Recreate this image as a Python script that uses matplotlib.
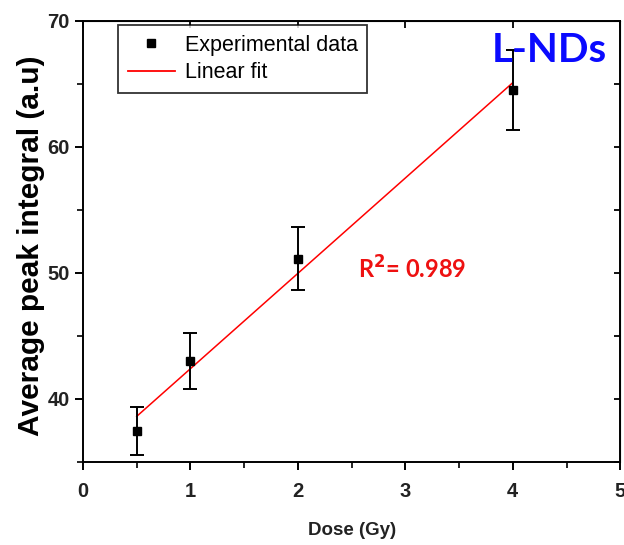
import numpy as np
import matplotlib
matplotlib.use("Agg")
import matplotlib.pyplot as plt
from matplotlib.ticker import MultipleLocator
from matplotlib.lines import Line2D

dose = [0.5, 1, 2, 4]
peak = [37.4, 43.0, 51.1, 64.5]
peak_err = [1.9, 2.2, 2.5, 3.2]

plt.rcParams["font.family"] = ["Liberation Sans", "DejaVu Sans"]

fig = plt.figure(figsize=(6.24, 5.45), dpi=100)
ax = fig.add_axes([0.133, 0.153, 0.861, 0.809])

# linear fit through the points
slope, intercept = np.polyfit(dose, peak, 1)
xfit = np.linspace(min(dose), max(dose), 50)
ax.plot(xfit, slope * xfit + intercept, color="red", lw=1.1, zorder=2)

ax.errorbar(dose, peak, yerr=peak_err, fmt="s", color="black", ms=6,
            ecolor="black", elinewidth=1.4, capsize=5, capthick=1.4, zorder=3)

ax.set_xlim(0, 5)
ax.set_ylim(35, 70)
ax.xaxis.set_major_locator(MultipleLocator(1))
ax.xaxis.set_minor_locator(MultipleLocator(0.5))
ax.yaxis.set_major_locator(MultipleLocator(10))
ax.yaxis.set_minor_locator(MultipleLocator(5))
ax.tick_params(which="major", direction="out", length=6, width=1.4,
               labelsize=14.5, labelcolor="#222222")
ax.tick_params(axis="x", which="major", pad=9)
ax.tick_params(which="minor", direction="out", length=4, width=1.2)
for lab in ax.get_xticklabels() + ax.get_yticklabels():
    lab.set_fontweight("bold")
for sp in ax.spines.values():
    sp.set_linewidth(1.4)

# inward ticks on top and right
top = ax.secondary_xaxis("top")
top.xaxis.set_major_locator(MultipleLocator(1))
top.tick_params(direction="in", length=5, width=1.3, labeltop=False)
right = ax.secondary_yaxis("right")
right.yaxis.set_major_locator(MultipleLocator(10))
right.yaxis.set_minor_locator(MultipleLocator(5))
right.tick_params(which="both", direction="in", length=4, width=1.3, labelright=False)

ax.set_xlabel("Dose (Gy)", fontsize=13.5, fontweight="bold", color="#222222", labelpad=15)
ax.set_ylabel("Average peak integral (a.u)", fontsize=21.5, fontweight="bold")
ax.yaxis.set_label_coords(-0.071, 0.49)

handles = [
    Line2D([], [], marker="s", ls="none", color="black", ms=6),
    Line2D([], [], color="red", lw=1.3),
]
leg = ax.legend(handles, ["Experimental data", "Linear fit"], loc="upper left",
                bbox_to_anchor=(0.065, 0.99), borderaxespad=0, fontsize=15.5,
                frameon=True, fancybox=False, edgecolor="black",
                handlelength=2.2, handletextpad=0.45, borderpad=0.45, labelspacing=0.3)
leg.get_frame().set_linewidth(1.3)

ax.text(0.975, 0.975, "L-NDs", transform=ax.transAxes, ha="right", va="top",
        fontsize=29, fontweight="bold", color="#0a0aff", family=["Lato", "DejaVu Sans"])
ax.text(2.56, 50.3, "R$^{\\mathbf{2}}$= 0.989", ha="left", va="center",
        fontsize=17, fontweight="bold", color="#ee1111", family=["Lato", "DejaVu Sans"])

fig.savefig("out.png", dpi=100)
